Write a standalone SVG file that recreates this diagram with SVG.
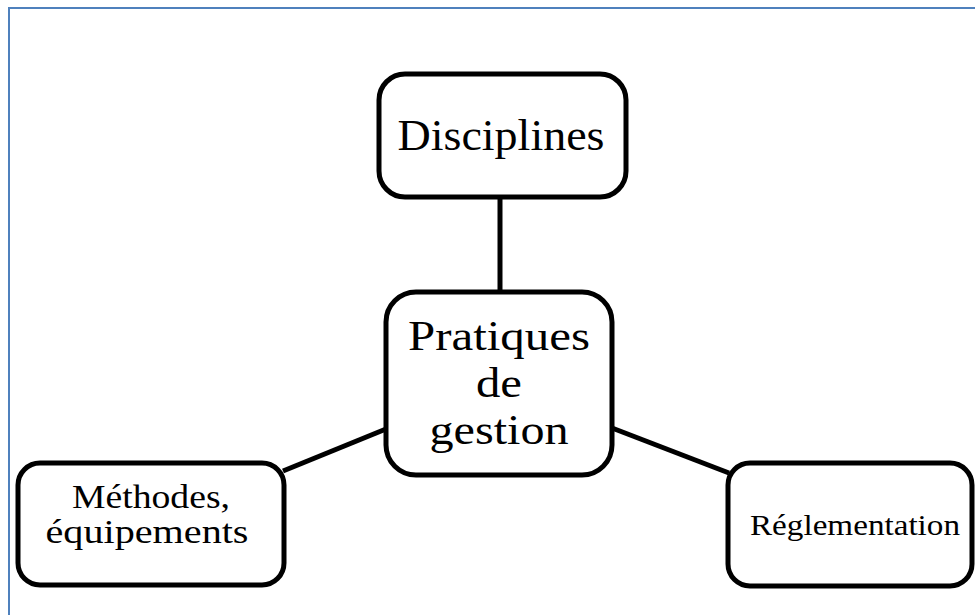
<svg xmlns="http://www.w3.org/2000/svg" width="975" height="615" viewBox="0 0 975 615">
<style>
.box{fill:#fff;stroke:#000;stroke-width:5}
.ln{stroke:#000;stroke-width:5;fill:none}
text{font-family:"Liberation Serif","Times New Roman",serif;fill:#000;text-anchor:middle}
</style>
<rect width="975" height="615" fill="#fff"/>
<path d="M9,615 V8 H975" fill="none" stroke="#4f81bd" stroke-width="2"/>
<g id="connectors">
<line class="ln" x1="500" y1="197" x2="500" y2="291"/>
<line class="ln" x1="283" y1="471" x2="386" y2="429"/>
<line class="ln" x1="612" y1="428" x2="729" y2="473"/>
</g>
<g id="disciplines">
<rect class="box" x="379" y="74" width="247" height="123" rx="26"/>
<text x="501" y="150" font-size="45" textLength="207" lengthAdjust="spacingAndGlyphs">Disciplines</text>
</g>
<g id="pratiques">
<rect class="box" x="386" y="292" width="226" height="183" rx="30"/>
<text x="499" y="350" font-size="43" textLength="182" lengthAdjust="spacingAndGlyphs">Pratiques</text>
<text x="499" y="397" font-size="43" textLength="46" lengthAdjust="spacingAndGlyphs">de</text>
<text x="499" y="444" font-size="43" textLength="139" lengthAdjust="spacingAndGlyphs">gestion</text>
</g>
<g id="methodes">
<rect class="box" x="18" y="463" width="266" height="122" rx="22"/>
<text x="151" y="508" font-size="34" textLength="158" lengthAdjust="spacingAndGlyphs">Méthodes,</text>
<text x="147" y="543" font-size="34" textLength="203" lengthAdjust="spacingAndGlyphs">équipements</text>
</g>
<g id="reglementation">
<rect class="box" x="728" y="463" width="244" height="123" rx="22"/>
<text x="855" y="535" font-size="29" textLength="210" lengthAdjust="spacingAndGlyphs">Réglementation</text>
</g>
</svg>
